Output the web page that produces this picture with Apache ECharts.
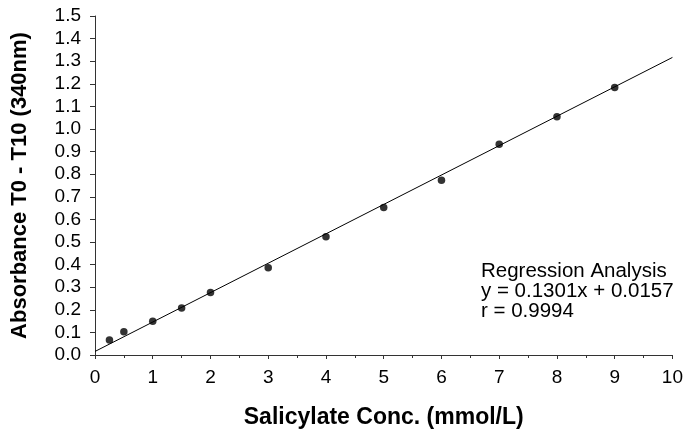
<!DOCTYPE html>
<html>
<head>
<meta charset="utf-8">
<script src="https://cdn.jsdelivr.net/npm/echarts@6/dist/echarts.min.js"></script>
<style>
html,body{margin:0;padding:0;background:#fff;}
#c{width:686px;height:435px;}
</style>
</head>
<body>
<div id="c"></div>
<script>
var concentrations = [0.25, 0.5, 1, 1.5, 2, 3, 4, 5, 6, 7, 8, 9];
var absorbances = [0.066, 0.103, 0.149, 0.208, 0.276, 0.386, 0.523, 0.653, 0.773, 0.932, 1.054, 1.184];
var slope = 0.1301;
var intercept = 0.0157;
var lineRange = [0, 10];
var regressionLabels = ['Regression Analysis', 'y = 0.1301x + 0.0157', 'r = 0.9994'];

var points = concentrations.map(function (x, i) { return [x, absorbances[i]]; });
var fitLine = lineRange.map(function (x) { return [x, slope * x + intercept]; });

var chart = echarts.init(document.getElementById('c'), null, {renderer: 'canvas'});
var font = '"Liberation Sans", Arial, sans-serif';
chart.setOption({
  animation: false,
  backgroundColor: '#fff',
  grid: {left: 95, right: 12, top: 16, bottom: 80, containLabel: false},
  xAxis: {
    type: 'value', min: 0, max: 10, interval: 1,
    name: 'Salicylate Conc. (mmol/L)', nameLocation: 'middle', nameGap: 51,
    nameTextStyle: {fontFamily: font, fontSize: 23, fontWeight: 'bold', color: '#000'},
    axisLine: {show: true, onZero: false, lineStyle: {color: '#333', width: 1}},
    axisTick: {show: true, length: 4, lineStyle: {color: '#333'}},
    minorTick: {show: true, splitNumber: 2, length: 3, lineStyle: {color: '#333'}},
    axisLabel: {fontFamily: font, fontSize: 19, color: '#000', margin: 13},
    splitLine: {show: false}
  },
  yAxis: {
    type: 'value', min: 0, max: 1.5, interval: 0.1,
    name: 'Absorbance T0 - T10 (340nm)', nameLocation: 'middle', nameGap: 64,
    nameTextStyle: {fontFamily: font, fontSize: 22, fontWeight: 'bold', color: '#000'},
    axisLine: {show: true, onZero: false, lineStyle: {color: '#333', width: 1}},
    axisTick: {show: true, length: 5, lineStyle: {color: '#333'}},
    axisLabel: {fontFamily: font, fontSize: 19, color: '#000', margin: 14,
      formatter: function (v) { return v.toFixed(1); }},
    splitLine: {show: false}
  },
  series: [
    {type: 'line', data: fitLine, symbol: 'none', silent: true,
     lineStyle: {color: '#000', width: 1}},
    {type: 'scatter', data: points, symbol: 'circle', symbolSize: 7.5,
     itemStyle: {color: '#000'}}
  ],
  graphic: [{
    type: 'text', left: 481, top: 261,
    style: {text: regressionLabels.join('\n'), fontFamily: font, fontSize: 20.5,
      lineHeight: 20, fill: '#000'}
  }]
});
</script>
</body>
</html>
